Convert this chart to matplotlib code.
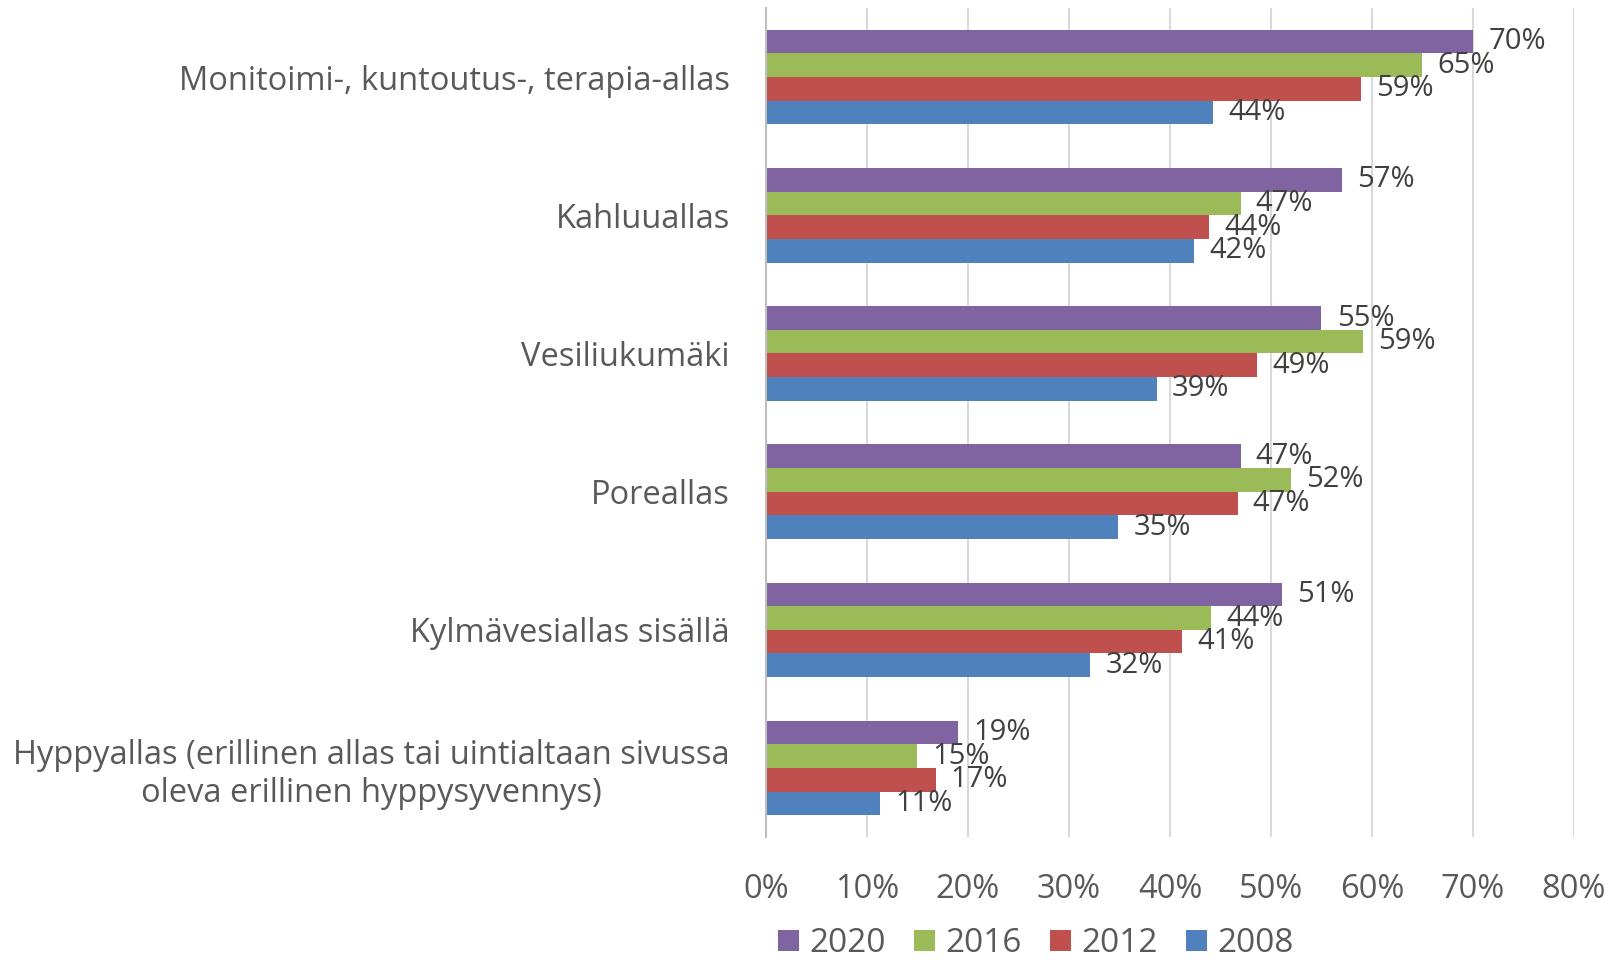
import matplotlib.pyplot as plt
import numpy as np

plt.rcParams['font.family'] = ['Open Sans', 'DejaVu Sans']

categories = ['Monitoimi-, kuntoutus-, terapia-allas', 'Kahluuallas', 'Vesiliukumäki',
              'Poreallas', 'Kylmävesiallas sisällä',
              'Hyppyallas (erillinen allas tai uintialtaan sivussa\noleva erillinen hyppysyvennys)']
years = ['2020', '2016', '2012', '2008']
v2020 = [70.0, 57.0, 55.0, 47.0, 51.1, 19.0]
v2016 = [65.0, 47.0, 59.1, 52.0, 44.1, 15.0]
v2012 = [58.9, 43.9, 48.6, 46.7, 41.2, 16.8]
v2008 = [44.3, 42.4, 38.7, 34.9, 32.1, 11.3]
values = [v2020, v2016, v2012, v2008]
colors = ['#8064A2', '#9BBB59', '#C0504D', '#4F81BD']

txt = '#595959'
fig = plt.figure(figsize=(16.21, 9.6), dpi=100)
ax = fig.add_axes([0.4725, 0.128, 0.4985, 0.8637])

y = np.arange(len(categories))
h = 0.171
for i, (yr, vals, c) in enumerate(zip(years, values, colors)):
    pos = y + (i - 1.5) * h
    ax.barh(pos, vals, height=h, color=c, label=yr, zorder=3)
    for p, v in zip(pos, vals):
        ax.text(v + 1.5, p, f'{v:.0f}%', va='center', ha='left', fontsize=21, color='#404040', zorder=4)

ax.set_xlim(0, 80)
ax.set_ylim(len(categories) - 0.5, -0.5)
ax.set_xticks(range(0, 81, 10))
ax.set_xticklabels([f'{t}%' for t in range(0, 81, 10)], fontsize=23.5, color=txt)
ax.set_yticks(y)
ax.set_yticklabels(categories, fontsize=23.5, color=txt, ha='right', multialignment='center')
ax.tick_params(axis='y', length=0, pad=26)
ax.tick_params(axis='x', length=0, pad=26)
ax.grid(axis='x', color='#D9D9D9', linewidth=1.5, zorder=0)
for s in ['top', 'right', 'bottom']:
    ax.spines[s].set_visible(False)
ax.spines['left'].set_color('#BFBFBF')
ax.spines['left'].set_linewidth(1.5)
ax.spines['left'].set_zorder(5)

fig.legend(loc='center', bbox_to_anchor=(0.639, 0.017), ncol=4, frameon=False,
           fontsize=24, handlelength=0.63, handleheight=0.63, handletextpad=0.32,
           columnspacing=0.84, labelcolor=txt)

fig.savefig('out.png', dpi=100)
